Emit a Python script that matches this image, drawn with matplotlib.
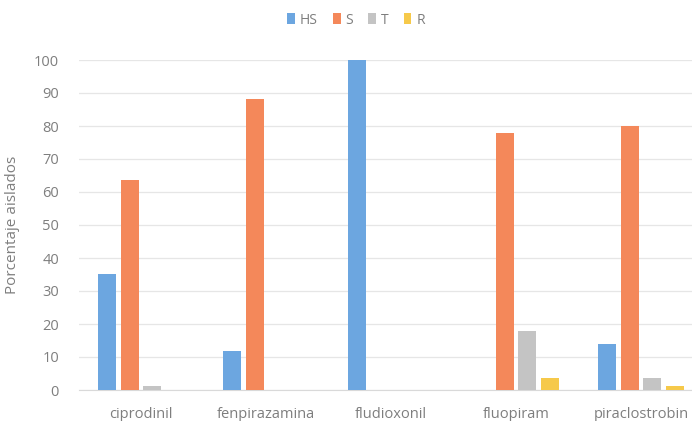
import numpy as np
from matplotlib import pyplot as plt

categories = ["ciprodinil", "fenpirazamina", "fludioxonil", "fluopiram", "piraclostrobin"]
series_names = ["HS", "S", "T", "R"]
hs_values = [35.1, 11.8, 100.0, 0.0, 14.0]
s_values = [63.6, 88.2, 0.0, 77.9, 80.0]
t_values = [1.2, 0.0, 0.0, 18.0, 3.6]
r_values = [0.0, 0.0, 0.0, 3.7, 1.1]
y_ticks = [0, 10, 20, 30, 40, 50, 60, 70, 80, 90, 100]

colors = ["#6CA6E0", "#F4885A", "#C4C4C4", "#F6C94A"]
text_grey = "#7E7E7E"

plt.rcParams['font.family'] = ['Open Sans', 'DejaVu Sans']

fig = plt.figure(figsize=(6.92, 4.21), dpi=100)
ax = fig.add_axes([78.5 / 692, 1 - 390 / 421, 625 / 692, 330 / 421])

x = np.arange(len(categories))
step = 0.18
width = 0.145
all_values = [hs_values, s_values, t_values, r_values]
for i, (name, vals) in enumerate(zip(series_names, all_values)):
    ax.bar(x + (i - 1.5) * step, vals, width=width, color=colors[i], label=name, zorder=3)

ax.set_xlim(-0.5, len(categories) - 0.5)
ax.set_ylim(0, 100)
ax.set_yticks(y_ticks)
ax.set_xticks(x)
ax.set_xticklabels(categories)
ax.tick_params(axis='both', length=0, colors=text_grey, labelsize=10.5)
ax.tick_params(axis='x', pad=12)
ax.tick_params(axis='y', pad=14)
ax.grid(True, axis='y', color='#E6E6E6', linewidth=0.9, zorder=0)
for side in ['top', 'right', 'left']:
    ax.spines[side].set_visible(False)
ax.spines['bottom'].set_color('#D9D9D9')
ax.set_ylabel("Porcentaje aislados", color=text_grey, fontsize=11, labelpad=10)

fig.legend(loc='center', bbox_to_anchor=(356 / 692, 1 - 20 / 421), ncol=4, frameon=False,
           fontsize=10, labelcolor=text_grey, handlelength=0.55, handleheight=0.9,
           handletextpad=0.35, columnspacing=1.1)

fig.savefig("out.png", dpi=100)
